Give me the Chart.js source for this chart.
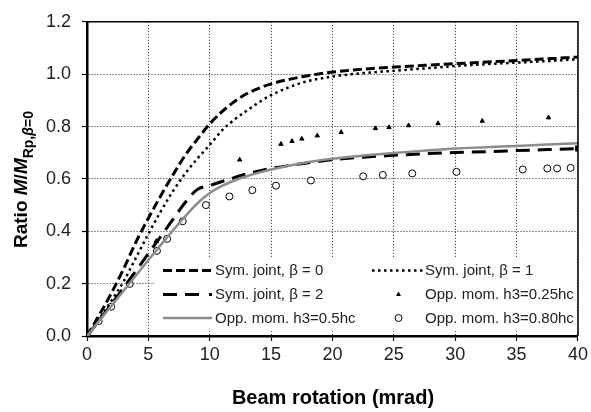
<!DOCTYPE html>
<html><head><meta charset="utf-8">
<script src="https://cdn.jsdelivr.net/npm/chart.js@4"></script>
<style>html,body{margin:0;padding:0;background:#fff}canvas{display:block}</style>
</head><body>
<canvas id="c" width="591" height="412"></canvas>
<script>
// ---- data ----
const curveX = [0,1,2,3,4,5,6,7,8,9,10,11,12,13,14,15,17.5,20,22.5,25,27.5,30,32.5,35,37.5,40];
const symBeta0 = [0,0.08,0.165,0.258,0.36,0.45,0.535,0.615,0.69,0.752,0.81,0.857,0.895,0.925,0.946,0.963,0.99,1.008,1.019,1.027,1.034,1.04,1.046,1.052,1.059,1.066];
const symBeta1 = [0,0.065,0.135,0.21,0.3,0.39,0.475,0.553,0.62,0.678,0.73,0.785,0.826,0.86,0.892,0.92,0.967,0.991,1.004,1.013,1.022,1.031,1.038,1.044,1.05,1.057];
const symBeta2 = [0,0.06,0.122,0.185,0.25,0.315,0.38,0.445,0.51,0.56,0.575,0.59,0.605,0.619,0.63,0.64,0.658,0.673,0.683,0.69,0.696,0.701,0.704,0.708,0.712,0.716];
const oppH05 = [0,0.058,0.116,0.174,0.232,0.29,0.347,0.403,0.457,0.507,0.546,0.573,0.594,0.61,0.624,0.636,0.66,0.677,0.689,0.699,0.708,0.716,0.721,0.726,0.731,0.736];
const triX = [0,5.64,12.44,15.8,16.7,17.5,18.76,20.7,23.5,24.6,26.2,28.6,32.2,37.6];
const triY = [0,0.362,0.673,0.733,0.744,0.753,0.765,0.778,0.793,0.797,0.804,0.812,0.821,0.834];
const circX = [0,0.95,1.97,3.48,5.7,6.53,7.8,9.69,11.6,13.47,15.4,18.24,22.5,24.1,26.5,30.1,35.5,37.5,38.3,39.4];
const circY = [0,0.057,0.112,0.199,0.325,0.371,0.438,0.5,0.533,0.557,0.574,0.594,0.61,0.615,0.621,0.627,0.636,0.64,0.64,0.642];
const seriesLabels = ['Sym. joint, β = 0','Sym. joint, β = 1','Sym. joint, β = 2','Opp. mom. h3=0.25hc','Opp. mom. h3=0.5hc','Opp. mom. h3=0.80hc'];
const xTickLabels = ['0','5','10','15','20','25','30','35','40'];
const yTickLabels = ['0.0','0.2','0.4','0.6','0.8','1.0','1.2'];
const xTitle = 'Beam rotation (mrad)';

const pts = (xs, ys) => xs.map((x, i) => ({x, y: ys[i]}));
const FONT = '"Liberation Sans", Arial, Helvetica, sans-serif';

const styles = [
  {color:'#000', width:3, dash:[9,4]},
  {color:'#000', width:2.5, dash:[2.5,3.5]},
  {color:'#000', width:3, dash:[14,8]},
  {marker:'triangle'},
  {color:'#8c8c8c', width:2.5, dash:[]},
  {marker:'circle'}
];

const datasets = [
  {label:seriesLabels[0], data:pts(curveX, symBeta0), borderColor:'#000', borderWidth:3, borderDash:[9,4], pointRadius:0, cubicInterpolationMode:'monotone', fill:false, order:1},
  {label:seriesLabels[1], data:pts(curveX, symBeta1), borderColor:'#000', borderWidth:2.5, borderDash:[2.5,3.5], pointRadius:0, cubicInterpolationMode:'monotone', fill:false, order:2},
  {label:seriesLabels[2], data:pts(curveX, symBeta2), borderColor:'#000', borderWidth:3, borderDash:[14,8], cubicInterpolationMode:'monotone', fill:false, order:3,
    pointRadius: ctx => ctx.dataIndex === curveX.length - 1 ? 2 : 0, pointStyle:'rect', pointBackgroundColor:'#000', pointBorderColor:'#000'},
  {label:seriesLabels[3], data:pts(triX, triY), showLine:false, pointStyle:'triangle', pointRadius:2.5, pointBackgroundColor:'#000', pointBorderColor:'#000', pointBorderWidth:1, order:4},
  {label:seriesLabels[4], data:pts(curveX, oppH05), borderColor:'#8c8c8c', borderWidth:2.5, pointRadius:0, cubicInterpolationMode:'monotone', fill:false, order:0},
  {label:seriesLabels[5], data:pts(circX, circY), showLine:false, pointStyle:'circle', pointRadius:3.5, pointBackgroundColor:'#fff', pointBorderColor:'#000', pointBorderWidth:1, order:5}
];

const extras = {
  id:'extras',
  afterDatasetsDraw(chart) {
    const ctx = chart.ctx, a = chart.chartArea;
    ctx.save();
    ctx.strokeStyle = '#000'; ctx.lineWidth = 1.5; ctx.setLineDash([]);
    ctx.beginPath(); ctx.moveTo(a.left, a.top); ctx.lineTo(a.right, a.top); ctx.lineTo(a.right, a.bottom); ctx.stroke();
    const bx = 155, by = 257, bw = 421, bh = 74;
    ctx.fillStyle = '#fff'; ctx.fillRect(bx, by, bw, bh);
    const rows = [270.5, 294.5, 318];
    const cols = [{s:163, e:212, t:215}, {s:372, e:423, t:425}];
    ctx.font = '15px ' + FONT; ctx.textBaseline = 'middle'; ctx.textAlign = 'left';
    for (let i = 0; i < 6; i++) {
      const r = Math.floor(i / 2), c = i % 2, st = styles[i];
      const y = rows[r], col = cols[c];
      if (st.marker) {
        const mx = (col.s + col.e) / 2 + 1;
        ctx.setLineDash([]); ctx.lineWidth = 1; ctx.strokeStyle = '#000';
        if (st.marker === 'triangle') {
          ctx.fillStyle = '#000'; ctx.beginPath();
          ctx.moveTo(mx, y - 3); ctx.lineTo(mx + 2.5, y + 1.5); ctx.lineTo(mx - 2.5, y + 1.5); ctx.closePath(); ctx.fill();
        } else {
          ctx.fillStyle = '#fff'; ctx.beginPath(); ctx.arc(mx, y, 3.5, 0, Math.PI * 2); ctx.fill(); ctx.stroke();
        }
      } else {
        ctx.strokeStyle = st.color; ctx.lineWidth = st.width; ctx.setLineDash(st.dash);
        ctx.beginPath(); ctx.moveTo(col.s, y); ctx.lineTo(i === 2 ? col.e - 10 : col.e, y); ctx.stroke();
        if (i === 2) { ctx.setLineDash([]); ctx.fillStyle = '#000'; ctx.fillRect(col.e - 3, y - 1.5, 3, 3); }
      }
      ctx.fillStyle = '#222'; ctx.fillText(seriesLabels[i], col.t, y + 0.5);
    }
    ctx.restore();
  },
  afterDraw(chart) {
    const ctx = chart.ctx;
    ctx.save();
    ctx.fillStyle = '#000'; ctx.textBaseline = 'alphabetic';
    ctx.font = 'bold 20px ' + FONT; ctx.textAlign = 'center';
    ctx.fillText(xTitle, 333, 404);
    ctx.translate(27, 248); ctx.rotate(-Math.PI / 2);
    ctx.textAlign = 'left';
    let x = 0;
    const parts = [
      {t:'Ratio ', f:'bold 19px ' + FONT, dy:0},
      {t:'M', f:'italic bold 19px ' + FONT, dy:0},
      {t:'/', f:'bold 19px ' + FONT, dy:0},
      {t:'M', f:'italic bold 19px ' + FONT, dy:0},
      {t:'Rp,', f:'bold 14px ' + FONT, dy:6},
      {t:'β', f:'italic bold 14px ' + FONT, dy:6},
      {t:'=0', f:'bold 14px ' + FONT, dy:6}
    ];
    for (const p of parts) { ctx.font = p.f; ctx.fillText(p.t, x, p.dy); x += ctx.measureText(p.t).width; }
    ctx.restore();
  }
};

new Chart(document.getElementById('c'), {
  type:'line',
  data:{datasets},
  plugins:[extras],
  options:{
    responsive:false, animation:false, devicePixelRatio:1,
    layout:{padding:{top:12, right:10, left:0, bottom:0}},
    plugins:{legend:{display:false}, tooltip:{enabled:false}},
    scales:{
      x:{type:'linear', min:0, max:40,
        afterFit(s){ s.height = 76; },
        ticks:{stepSize:5, color:'#222', font:{family:FONT, size:18}, padding:3, maxRotation:0,
          callback:(v) => xTickLabels[Math.round(v / 5)] ?? ''},
        grid:{color:'#222', lineWidth:1, tickLength:5, tickColor:'#000', tickWidth:1.2},
        border:{display:true, color:'#000', width:2.5, dash:[1,2]}
      },
      y:{type:'linear', min:0, max:1.2,
        afterFit(s){ s.width = 87; },
        ticks:{stepSize:0.2, color:'#222', font:{family:FONT, size:18}, padding:11,
          callback:(v) => yTickLabels[Math.round(v / 0.2)] ?? ''},
        grid:{color:'#222', lineWidth:1, tickLength:5, tickColor:'#000', tickWidth:1.2},
        border:{display:true, color:'#000', width:2.5, dash:[1,2]}
      }
    }
  }
});
</script>
</body></html>
